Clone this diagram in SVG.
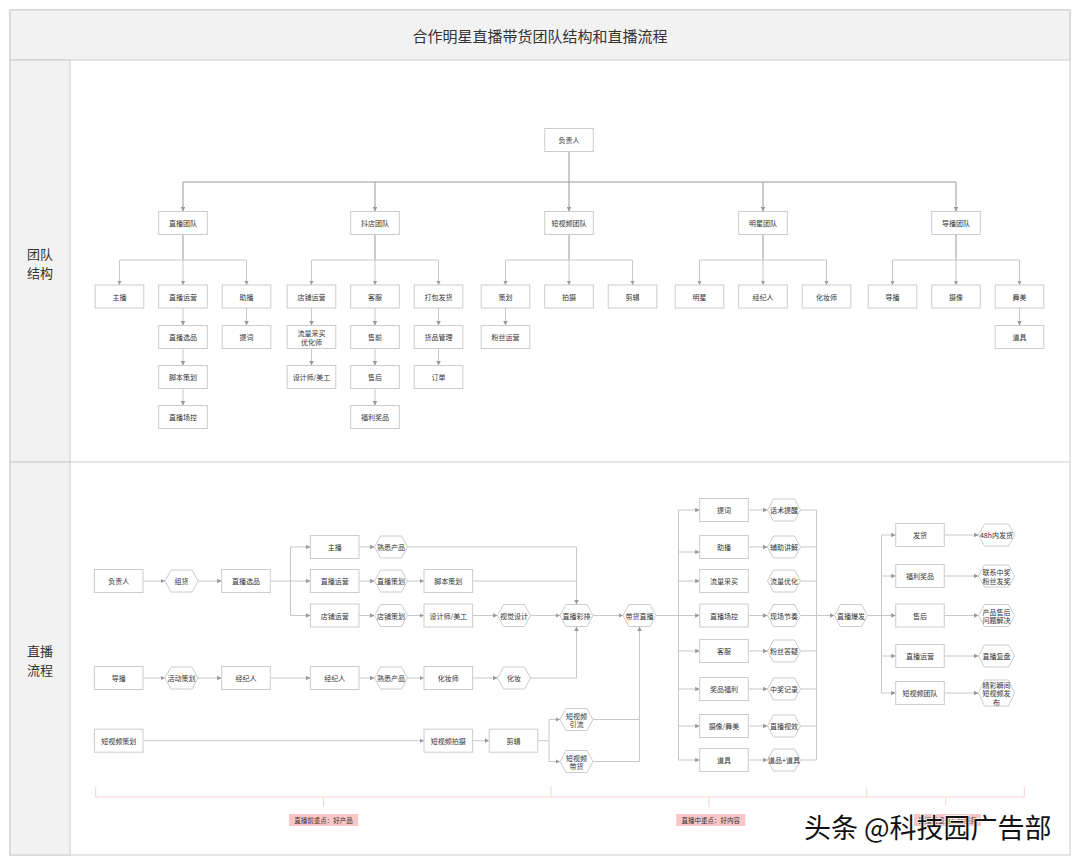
<svg xmlns="http://www.w3.org/2000/svg" width="1080" height="866" viewBox="0 0 1080 866">
<defs>
<marker id="ah" viewBox="0 0 6 6" refX="6" refY="3" markerWidth="4.5" markerHeight="4.5" orient="auto" markerUnits="userSpaceOnUse"><path d="M0,0 L6,3 L0,6 z" fill="#999"/></marker>
<style>
.frame{fill:#fff;stroke:#ccc;stroke-width:1}
.hdr{fill:#f2f2f2;stroke:#ccc;stroke-width:1}
.bx{fill:#fff;stroke:#ccc;stroke-width:1}
.hx{fill:#fff;stroke:#ccc;stroke-width:1}
.t{font-family:"Noto Sans CJK SC","Liberation Sans",sans-serif;font-size:7px;fill:#333;text-anchor:middle;dominant-baseline:central}
.title{font-family:"Noto Sans CJK SC","Liberation Sans",sans-serif;font-size:15px;fill:#333;text-anchor:middle;dominant-baseline:central}
.lane{font-family:"Noto Sans CJK SC","Liberation Sans",sans-serif;font-size:13px;fill:#333;text-anchor:middle}
.m{fill:none;stroke:#999;stroke-width:1}
.s{fill:none;stroke:#c8c8c8;stroke-width:1}
.a{marker-end:url(#ah)}
.pk{fill:none;stroke:#f6d2d2;stroke-width:1}
.pkb{fill:#f8c6c6}
.pt{font-family:"Noto Sans CJK SC","Liberation Sans",sans-serif;font-size:6.5px;fill:#333;text-anchor:middle;dominant-baseline:central}
.wm{font-family:"Noto Sans CJK SC","Liberation Sans",sans-serif;font-size:27px;fill:#111;stroke:#fff;stroke-width:1.5;paint-order:stroke}
</style>
</defs>
<rect width="1080" height="866" fill="#fff"/>
<g id="frame">
<rect class="frame" x="10" y="10" width="1060" height="845"/>
<rect class="hdr" x="10" y="10" width="1060" height="50"/>
<text class="title" x="540" y="35">合作明星直播带货团队结构和直播流程</text>
<rect class="hdr" x="10" y="60" width="60" height="402"/>
<rect class="hdr" x="10" y="462" width="60" height="393"/>
<line x1="70" y1="462" x2="1070" y2="462" stroke="#ccc"/>
<text class="lane" x="40" y="258.5"><tspan x="40">团队</tspan><tspan x="40" dy="19">结构</tspan></text>
<text class="lane" x="40" y="655.5"><tspan x="40">直播</tspan><tspan x="40" dy="19">流程</tspan></text>
</g>
<g id="connectors">
<path class="m a" d="M569,151.5 V211.5"/>
<path class="m" d="M183,182 H956"/>
<path class="m a" d="M183,182 V211.5"/>
<path class="m a" d="M375,182 V211.5"/>
<path class="m a" d="M763,182 V211.5"/>
<path class="m a" d="M956,182 V211.5"/>
<path class="m" d="M183,234.5 V260 M375,234.5 V260 M569,234.5 V260 M763,234.5 V260 M956,234.5 V260"/>
<path class="s" d="M119.5,260 H246.5 M311.5,260 H438.5 M505.5,260 H632.5 M699.5,260 H826.5 M892.5,260 H1019.5"/>
<path class="s a" d="M119.5,260 V285"/><path class="s a" d="M183,260 V285"/><path class="s a" d="M246.5,260 V285"/>
<path class="s a" d="M311.5,260 V285"/><path class="s a" d="M375,260 V285"/><path class="s a" d="M438.5,260 V285"/>
<path class="s a" d="M505.5,260 V285"/><path class="s a" d="M569,260 V285"/><path class="s a" d="M632.5,260 V285"/>
<path class="s a" d="M699.5,260 V285"/><path class="s a" d="M763,260 V285"/><path class="s a" d="M826.5,260 V285"/>
<path class="s a" d="M892.5,260 V285"/><path class="s a" d="M956,260 V285"/><path class="s a" d="M1019.5,260 V285"/>
<path class="s a" d="M183,308 V325.5"/><path class="s a" d="M183,348.5 V365.5"/><path class="s a" d="M183,388.5 V405.5"/>
<path class="s a" d="M246.5,308 V325.5"/>
<path class="s a" d="M311.5,308 V325.5"/><path class="s a" d="M311.5,348.5 V365.5"/>
<path class="s a" d="M375,308 V325.5"/><path class="s a" d="M375,348.5 V365.5"/><path class="s a" d="M375,388.5 V405.5"/>
<path class="s a" d="M438.5,308 V325.5"/><path class="s a" d="M438.5,348.5 V365.5"/>
<path class="s a" d="M505.5,308 V325.5"/>
<path class="s a" d="M1019.5,308 V325.5"/>
<path class="s a" d="M143,581 H165"/>
<path class="s a" d="M198,581 H221.7"/>
<path class="s" d="M270.3,581 H290.5 M290.5,547 V615.5"/>
<path class="s a" d="M290.5,547 H310.4"/><path class="s a" d="M290.5,581 H310.4"/><path class="s a" d="M290.5,615.5 H310.4"/>
<path class="s a" d="M359,547 H374.5"/><path class="s a" d="M359,581 H374.5"/><path class="s a" d="M359,615.5 H374.5"/>
<path class="s a" d="M407.5,547 H576.5 V604.5"/>
<path class="s a" d="M407.5,581 H424"/>
<path class="s" d="M472.6,581 H576.5"/>
<path class="s a" d="M407.5,615.5 H424"/>
<path class="s a" d="M472.6,615.5 H497.5"/>
<path class="s a" d="M530.5,615.5 H560"/>
<path class="s a" d="M593,615.5 H623"/>
<path class="s" d="M656,615.5 H678.5 M678.5,510 V760"/>
<path class="s a" d="M678.5,510 H699.7"/><path class="s a" d="M678.5,552 H699.7"/><path class="s a" d="M678.5,581 H699.7"/><path class="s a" d="M678.5,615.5 H699.7"/>
<path class="s a" d="M678.5,651 H699.7"/><path class="s a" d="M678.5,689 H699.7"/><path class="s a" d="M678.5,726 H699.7"/><path class="s a" d="M678.5,760 H699.7"/>
<path class="s a" d="M748.3,510 H767.5"/><path class="s a" d="M748.3,547 H767.5"/><path class="s a" d="M748.3,615.5 H767.5"/>
<path class="s a" d="M748.3,651 H767.5"/><path class="s a" d="M748.3,689 H767.5"/><path class="s a" d="M748.3,726 H767.5"/><path class="s a" d="M748.3,760 H767.5"/>
<path class="s" d="M800.5,510 H816.5 M800.5,547 H816.5 M800.5,581 H816.5 M800.5,615.5 H816.5 M800.5,651 H816.5 M800.5,689 H816.5 M800.5,726 H816.5 M800.5,760 H816.5 M816.5,510 V760"/>
<path class="s a" d="M816.5,615.5 H834.5"/>
<path class="s" d="M867.5,615.5 H881.5 M881.5,535 V693"/>
<path class="s a" d="M881.5,535 H895.7"/><path class="s a" d="M881.5,576 H895.7"/><path class="s a" d="M881.5,615.5 H895.7"/><path class="s a" d="M881.5,656 H895.7"/><path class="s a" d="M881.5,693 H895.7"/>
<path class="s a" d="M944.3,535 H978.5"/><path class="s a" d="M944.3,576 H978.5"/><path class="s a" d="M944.3,615.5 H978.5"/><path class="s a" d="M944.3,656 H978.5"/><path class="s a" d="M944.3,693 H978.5"/>
<path class="s a" d="M143,678 H165"/>
<path class="s a" d="M198,678 H221.7"/>
<path class="s a" d="M270.3,678 H310.4"/>
<path class="s a" d="M359,678 H374.5"/>
<path class="s a" d="M407.5,678 H424"/>
<path class="s a" d="M472.6,678 H497.5"/>
<path class="s a" d="M530.5,678 H576.5 V626.5"/>
<path class="s a" d="M143,740.7 H424"/>
<path class="s a" d="M472.6,740.7 H489.2"/>
<path class="s" d="M537.8,740.7 H549 M549,719.5 V761.5"/>
<path class="s a" d="M549,719.5 H560"/><path class="s a" d="M549,761.5 H560"/>
<path class="s a" d="M593,719.5 H639.5 V626.5"/>
<path class="s" d="M593,761.5 H639.5 V719.5"/>
</g>
<g id="n-fzr"><rect class="bx" x="544.7" y="128.5" width="48.6" height="23"/><text class="t" x="569" y="140">负责人</text></g>
<g id="n-zbtd"><rect class="bx" x="158.7" y="211.5" width="48.6" height="23"/><text class="t" x="183" y="223">直播团队</text></g>
<g id="n-ddtd"><rect class="bx" x="350.7" y="211.5" width="48.6" height="23"/><text class="t" x="375" y="223">抖店团队</text></g>
<g id="n-dsptd"><rect class="bx" x="544.7" y="211.5" width="48.6" height="23"/><text class="t" x="569" y="223">短视频团队</text></g>
<g id="n-mxtd"><rect class="bx" x="738.7" y="211.5" width="48.6" height="23"/><text class="t" x="763" y="223">明星团队</text></g>
<g id="n-dbtd"><rect class="bx" x="931.7" y="211.5" width="48.6" height="23"/><text class="t" x="956" y="223">导播团队</text></g>
<g id="n-zhubo"><rect class="bx" x="95.2" y="285" width="48.6" height="23"/><text class="t" x="119.5" y="296.5">主播</text></g>
<g id="n-zbyy"><rect class="bx" x="158.7" y="285" width="48.6" height="23"/><text class="t" x="183" y="296.5">直播运营</text></g>
<g id="n-zhub"><rect class="bx" x="222.2" y="285" width="48.6" height="23"/><text class="t" x="246.5" y="296.5">助播</text></g>
<g id="n-zbxp"><rect class="bx" x="158.7" y="325.5" width="48.6" height="23"/><text class="t" x="183" y="337">直播选品</text></g>
<g id="n-jbch"><rect class="bx" x="158.7" y="365.5" width="48.6" height="23"/><text class="t" x="183" y="377">脚本策划</text></g>
<g id="n-zbck"><rect class="bx" x="158.7" y="405.5" width="48.6" height="23"/><text class="t" x="183" y="417">直播场控</text></g>
<g id="n-tici"><rect class="bx" x="222.2" y="325.5" width="48.6" height="23"/><text class="t" x="246.5" y="337">提词</text></g>
<g id="n-dpyy"><rect class="bx" x="287.2" y="285" width="48.6" height="23"/><text class="t" x="311.5" y="296.5">店铺运营</text></g>
<g id="n-kf"><rect class="bx" x="350.7" y="285" width="48.6" height="23"/><text class="t" x="375" y="296.5">客服</text></g>
<g id="n-dbfh"><rect class="bx" x="414.2" y="285" width="48.6" height="23"/><text class="t" x="438.5" y="296.5">打包发货</text></g>
<g id="n-llcm"><rect class="bx" x="287.2" y="325.5" width="48.6" height="23"/><text class="t" x="311.5" y="333">流量采买</text><text class="t" x="311.5" y="341.5">优化师</text></g>
<g id="n-sjs"><rect class="bx" x="287.2" y="365.5" width="48.6" height="23"/><text class="t" x="311.5" y="377">设计师/美工</text></g>
<g id="n-sq"><rect class="bx" x="350.7" y="325.5" width="48.6" height="23"/><text class="t" x="375" y="337">售前</text></g>
<g id="n-sh"><rect class="bx" x="350.7" y="365.5" width="48.6" height="23"/><text class="t" x="375" y="377">售后</text></g>
<g id="n-fljp"><rect class="bx" x="350.7" y="405.5" width="48.6" height="23"/><text class="t" x="375" y="417">福利奖品</text></g>
<g id="n-hpgl"><rect class="bx" x="414.2" y="325.5" width="48.6" height="23"/><text class="t" x="438.5" y="337">货品管理</text></g>
<g id="n-dd"><rect class="bx" x="414.2" y="365.5" width="48.6" height="23"/><text class="t" x="438.5" y="377">订单</text></g>
<g id="n-ch"><rect class="bx" x="481.2" y="285" width="48.6" height="23"/><text class="t" x="505.5" y="296.5">策划</text></g>
<g id="n-ps"><rect class="bx" x="544.7" y="285" width="48.6" height="23"/><text class="t" x="569" y="296.5">拍摄</text></g>
<g id="n-jj"><rect class="bx" x="608.2" y="285" width="48.6" height="23"/><text class="t" x="632.5" y="296.5">剪辑</text></g>
<g id="n-fsyy"><rect class="bx" x="481.2" y="325.5" width="48.6" height="23"/><text class="t" x="505.5" y="337">粉丝运营</text></g>
<g id="n-mx"><rect class="bx" x="675.2" y="285" width="48.6" height="23"/><text class="t" x="699.5" y="296.5">明星</text></g>
<g id="n-jjr"><rect class="bx" x="738.7" y="285" width="48.6" height="23"/><text class="t" x="763" y="296.5">经纪人</text></g>
<g id="n-hzs"><rect class="bx" x="802.2" y="285" width="48.6" height="23"/><text class="t" x="826.5" y="296.5">化妆师</text></g>
<g id="n-db"><rect class="bx" x="868.2" y="285" width="48.6" height="23"/><text class="t" x="892.5" y="296.5">导播</text></g>
<g id="n-sx"><rect class="bx" x="931.7" y="285" width="48.6" height="23"/><text class="t" x="956" y="296.5">摄像</text></g>
<g id="n-wm"><rect class="bx" x="995.2" y="285" width="48.6" height="23"/><text class="t" x="1019.5" y="296.5">舞美</text></g>
<g id="n-dj"><rect class="bx" x="995.2" y="325.5" width="48.6" height="23"/><text class="t" x="1019.5" y="337">道具</text></g>
<g id="f-fzr"><rect class="bx" x="94.4" y="569.5" width="48.6" height="23"/><text class="t" x="118.7" y="581">负责人</text></g>
<g id="f-zh"><polygon class="hx" points="165,581 171,570 192,570 198,581 192,592 171,592"/><text class="t" x="181.5" y="581">组货</text></g>
<g id="f-zbxp"><rect class="bx" x="221.7" y="569.5" width="48.6" height="23"/><text class="t" x="246" y="581">直播选品</text></g>
<g id="f-zhubo"><rect class="bx" x="310.4" y="535.5" width="48.6" height="23"/><text class="t" x="334.7" y="547">主播</text></g>
<g id="f-zbyy"><rect class="bx" x="310.4" y="569.5" width="48.6" height="23"/><text class="t" x="334.7" y="581">直播运营</text></g>
<g id="f-dpyy"><rect class="bx" x="310.4" y="604" width="48.6" height="23"/><text class="t" x="334.7" y="615.5">店铺运营</text></g>
<g id="f-sxcp1"><polygon class="hx" points="374.5,547 380.5,536 401.5,536 407.5,547 401.5,558 380.5,558"/><text class="t" x="391" y="547">熟悉产品</text></g>
<g id="f-zbch"><polygon class="hx" points="374.5,581 380.5,570 401.5,570 407.5,581 401.5,592 380.5,592"/><text class="t" x="391" y="581">直播策划</text></g>
<g id="f-dpch"><polygon class="hx" points="374.5,615.5 380.5,604.5 401.5,604.5 407.5,615.5 401.5,626.5 380.5,626.5"/><text class="t" x="391" y="615.5">店铺策划</text></g>
<g id="f-jbch"><rect class="bx" x="424" y="569.5" width="48.6" height="23"/><text class="t" x="448.3" y="581">脚本策划</text></g>
<g id="f-sjs"><rect class="bx" x="424" y="604" width="48.6" height="23"/><text class="t" x="448.3" y="615.5">设计师/美工</text></g>
<g id="f-sjsj"><polygon class="hx" points="497.5,615.5 503.5,604.5 524.5,604.5 530.5,615.5 524.5,626.5 503.5,626.5"/><text class="t" x="514" y="615.5">视觉设计</text></g>
<g id="f-zbcp"><polygon class="hx" points="560,615.5 566,604.5 587,604.5 593,615.5 587,626.5 566,626.5"/><text class="t" x="576.5" y="615.5">直播彩排</text></g>
<g id="f-dhzb"><polygon class="hx" points="623,615.5 629,604.5 650,604.5 656,615.5 650,626.5 629,626.5"/><text class="t" x="639.5" y="615.5">带货直播</text></g>
<g id="f-db"><rect class="bx" x="94.4" y="666.5" width="48.6" height="23"/><text class="t" x="118.7" y="678">导播</text></g>
<g id="f-hdch"><polygon class="hx" points="165,678 171,667 192,667 198,678 192,689 171,689"/><text class="t" x="181.5" y="678">活动策划</text></g>
<g id="f-jjr1"><rect class="bx" x="221.7" y="666.5" width="48.6" height="23"/><text class="t" x="246" y="678">经纪人</text></g>
<g id="f-jjr2"><rect class="bx" x="310.4" y="666.5" width="48.6" height="23"/><text class="t" x="334.7" y="678">经纪人</text></g>
<g id="f-sxcp2"><polygon class="hx" points="374.5,678 380.5,667 401.5,667 407.5,678 401.5,689 380.5,689"/><text class="t" x="391" y="678">熟悉产品</text></g>
<g id="f-hzs"><rect class="bx" x="424" y="666.5" width="48.6" height="23"/><text class="t" x="448.3" y="678">化妆师</text></g>
<g id="f-hz"><polygon class="hx" points="497.5,678 503.5,667 524.5,667 530.5,678 524.5,689 503.5,689"/><text class="t" x="514" y="678">化妆</text></g>
<g id="f-dspch"><rect class="bx" x="94.4" y="729.2" width="48.6" height="23"/><text class="t" x="118.7" y="740.7">短视频策划</text></g>
<g id="f-dspps"><rect class="bx" x="424" y="729.2" width="48.6" height="23"/><text class="t" x="448.3" y="740.7">短视频拍摄</text></g>
<g id="f-jj"><rect class="bx" x="489.2" y="729.2" width="48.6" height="23"/><text class="t" x="513.5" y="740.7">剪辑</text></g>
<g id="f-dspyl"><polygon class="hx" points="560,719.5 566,708.5 587,708.5 593,719.5 587,730.5 566,730.5"/><text class="t" x="576.5" y="715.5">短视频</text><text class="t" x="576.5" y="724">引流</text></g>
<g id="f-dspdh"><polygon class="hx" points="560,761.5 566,750.5 587,750.5 593,761.5 587,772.5 566,772.5"/><text class="t" x="576.5" y="757.5">短视频</text><text class="t" x="576.5" y="766">带货</text></g>
<g id="f-tc"><rect class="bx" x="699.7" y="498.5" width="48.6" height="23"/><text class="t" x="724" y="510">提词</text></g>
<g id="f-zhb"><rect class="bx" x="699.7" y="535.5" width="48.6" height="23"/><text class="t" x="724" y="547">助播</text></g>
<g id="f-llcm"><rect class="bx" x="699.7" y="569.5" width="48.6" height="23"/><text class="t" x="724" y="581">流量采买</text></g>
<g id="f-zbck"><rect class="bx" x="699.7" y="604" width="48.6" height="23"/><text class="t" x="724" y="615.5">直播场控</text></g>
<g id="f-kf"><rect class="bx" x="699.7" y="639.5" width="48.6" height="23"/><text class="t" x="724" y="651">客服</text></g>
<g id="f-jpfl"><rect class="bx" x="699.7" y="677.5" width="48.6" height="23"/><text class="t" x="724" y="689">奖品福利</text></g>
<g id="f-sxwm"><rect class="bx" x="699.7" y="714.5" width="48.6" height="23"/><text class="t" x="724" y="726">摄像/舞美</text></g>
<g id="f-dj"><rect class="bx" x="699.7" y="748.5" width="48.6" height="23"/><text class="t" x="724" y="760">道具</text></g>
<g id="f-hstx"><polygon class="hx" points="767.5,510 773.5,499 794.5,499 800.5,510 794.5,521 773.5,521"/><text class="t" x="784" y="510">话术提醒</text></g>
<g id="f-fzjj"><polygon class="hx" points="767.5,547 773.5,536 794.5,536 800.5,547 794.5,558 773.5,558"/><text class="t" x="784" y="547">辅助讲解</text></g>
<g id="f-llyh"><polygon class="hx" points="767.5,581 773.5,570 794.5,570 800.5,581 794.5,592 773.5,592"/><text class="t" x="784" y="581">流量优化</text></g>
<g id="f-xcjz"><polygon class="hx" points="767.5,615.5 773.5,604.5 794.5,604.5 800.5,615.5 794.5,626.5 773.5,626.5"/><text class="t" x="784" y="615.5">现场节奏</text></g>
<g id="f-fsdy"><polygon class="hx" points="767.5,651 773.5,640 794.5,640 800.5,651 794.5,662 773.5,662"/><text class="t" x="784" y="651">粉丝答疑</text></g>
<g id="f-zjjl"><polygon class="hx" points="767.5,689 773.5,678 794.5,678 800.5,689 794.5,700 773.5,700"/><text class="t" x="784" y="689">中奖记录</text></g>
<g id="f-zbsx"><polygon class="hx" points="767.5,726 773.5,715 794.5,715 800.5,726 794.5,737 773.5,737"/><text class="t" x="784" y="726">直播视效</text></g>
<g id="f-dpdj"><polygon class="hx" points="767.5,760 773.5,749 794.5,749 800.5,760 794.5,771 773.5,771"/><text class="t" x="784" y="760">道品+道具</text></g>
<g id="f-zbbf"><polygon class="hx" points="834.5,615.5 840.5,604.5 861.5,604.5 867.5,615.5 861.5,626.5 840.5,626.5"/><text class="t" x="851" y="615.5">直播爆发</text></g>
<g id="f-fh"><rect class="bx" x="895.7" y="523.5" width="48.6" height="23"/><text class="t" x="920" y="535">发货</text></g>
<g id="f-fljp"><rect class="bx" x="895.7" y="564.5" width="48.6" height="23"/><text class="t" x="920" y="576">福利奖品</text></g>
<g id="f-sh"><rect class="bx" x="895.7" y="604" width="48.6" height="23"/><text class="t" x="920" y="615.5">售后</text></g>
<g id="f-zbyy2"><rect class="bx" x="895.7" y="644.5" width="48.6" height="23"/><text class="t" x="920" y="656">直播运营</text></g>
<g id="f-dsptd"><rect class="bx" x="895.7" y="681.5" width="48.6" height="23"/><text class="t" x="920" y="693">短视频团队</text></g>
<g id="f-48h"><polygon class="hx" points="978.5,535 984.5,524 1008.5,524 1014.5,535 1008.5,546 984.5,546"/><text class="t" x="996.5" y="535">48h内发货</text></g>
<g id="f-lxzj"><polygon class="hx" points="978.5,576 984.5,565 1008.5,565 1014.5,576 1008.5,587 984.5,587"/><text class="t" x="996.5" y="572">联系中奖</text><text class="t" x="996.5" y="580.5">粉丝发奖</text></g>
<g id="f-cpsh"><polygon class="hx" points="978.5,615.5 984.5,604.5 1008.5,604.5 1014.5,615.5 1008.5,626.5 984.5,626.5"/><text class="t" x="996.5" y="611.5">产品售后</text><text class="t" x="996.5" y="620">问题解决</text></g>
<g id="f-zbfp"><polygon class="hx" points="978.5,656 984.5,645 1008.5,645 1014.5,656 1008.5,667 984.5,667"/><text class="t" x="996.5" y="656">直播复盘</text></g>
<g id="f-jcsj"><polygon class="hx" points="978.5,693 984.5,680 1008.5,680 1014.5,693 1008.5,706 984.5,706"/><text class="t" x="996.5" y="684.5">精彩瞬间</text><text class="t" x="996.5" y="693">短视频发</text><text class="t" x="996.5" y="701.5">布</text></g>
<g id="brackets">
<path class="pk" d="M95.7,787 V797 H1024.3 V787 M551,787 V797 M866.7,787 V797 M323.3,797 V807 M709,797 V807 M945.7,797 V805"/>
<rect class="pkb" x="289" y="814" width="69" height="12"/>
<text class="pt" x="323.5" y="820">直播前重点：好产品</text>
<rect class="pkb" x="676.3" y="814" width="69" height="12"/>
<text class="pt" x="710.8" y="820">直播中重点：好内容</text>
<rect class="pkb" x="914" y="814" width="67" height="12"/>
<text class="pt" x="947.5" y="820">直播后重点：好服务</text>
</g>
<text class="wm" x="804" y="838">头条 @科技园广告部</text>
</svg>
